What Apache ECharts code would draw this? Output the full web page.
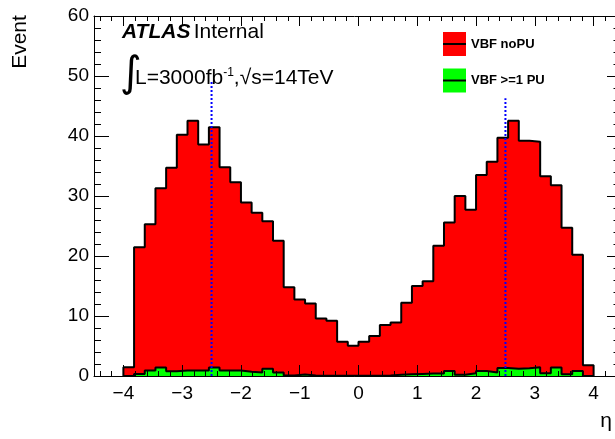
<!DOCTYPE html>
<html><head><meta charset="utf-8">
<script src="https://cdn.jsdelivr.net/npm/echarts@6/dist/echarts.min.js"></script>
<style>html,body{margin:0;padding:0;background:#fff}#c{width:615px;height:439px}</style>
</head><body><div id="c"></div>
<script>
// ---- data ----
const etaLow = -4, etaHigh = 4;           // histogram range (44 bins)
const vbfNoPU = [1.45, 21.45, 25.3, 31.3, 34.7, 40.2, 42.55, 38.6, 41.45, 34.8, 32.3,
  28.9, 27.2, 25.8, 22.55, 14.8, 12.75, 12.1, 9.6, 9.2, 5.7, 5.05,
  5.7, 6.67, 8.5, 8.9, 12.2, 15.0, 15.8, 21.7, 25.6, 30.0, 27.7,
  33.5, 35.7, 39.7, 42.55, 39.2, 39.05, 33.3, 31.8, 24.7, 20.2, 1.8];
const vbfPU = [0, 0.35, 0.9, 1.4, 0.8, 0.9, 0.9, 0.9, 1.4, 0.9, 0.9,
  0.7, 0.6, 1.2, 0.6, 0.1, 0.25, 0.1, 0.05, 0.05, 0.05, 0.05,
  0.05, 0.05, 0.1, 0.2, 0.3, 0.35, 0.4, 0.4, 0.85, 0.2, 0.45,
  0.85, 0.6, 1.35, 1.2, 1.3, 1.45, 0.45, 1.4, 0.3, 0.85, 0];
const xTickLabels = [-4, -3, -2, -1, 0, 1, 2, 3, 4];
const yTickLabels = [0, 10, 20, 30, 40, 50, 60];
const xAxisMin = -4.5, xAxisMax = 4.364;  // frame is cut by the picture's right edge
const refLineEta = [-2.5, 2.5];
const refLineTop = [49.3, 46.3];
const legendNames = ['VBF noPU', 'VBF >=1 PU'];
const seriesColors = ['#ff0000', '#00ff00'];

// ---- helpers ----
function stepData(counts) {
  const n = counts.length, w = (etaHigh - etaLow) / n;
  const d = [[etaLow, 0]];
  for (let i = 0; i < n; i++) d.push([etaLow + i * w, counts[i]]);
  d.push([etaHigh, counts[n - 1]]);
  d.push([etaHigh, 0]);
  return d;
}
const minorX = [];
for (let k = -22; k <= 21; k++) minorX.push(k / 5);
const FONT = 'Liberation Sans';
const fmt = v => v < 0 ? '\u2212' + Math.abs(v) : String(v);

function xAx(pos, major, labels) {
  return {
    type: 'value', min: xAxisMin, max: xAxisMax, position: pos, z: 10,
    axisLine: { show: major, onZero: false, lineStyle: { color: '#000', width: 1 } },
    axisTick: { show: true, inside: true, length: major ? (pos === 'bottom' ? 11 : 10) : 5,
      customValues: major ? xTickLabels : minorX, lineStyle: { color: '#000', width: 1 } },
    axisLabel: { show: labels, customValues: xTickLabels, formatter: fmt, fontSize: 19,
      fontFamily: FONT, color: '#000', margin: 8 },
    splitLine: { show: false }
  };
}
function yAx(pos, labels) {
  const left = pos === 'left';
  return {
    type: 'value', min: 0, max: 60, interval: 10, position: pos, z: 10,
    axisLine: { show: left, onZero: false, lineStyle: { color: '#000', width: 1 } },
    axisTick: { show: true, inside: true, length: left ? 15 : 8, lineStyle: { color: '#000', width: 1 } },
    minorTick: { show: true, splitNumber: 5, length: left ? 7 : 1.5, lineStyle: { color: '#000', width: 1 } },
    axisLabel: { show: labels, fontSize: 19, fontFamily: FONT, color: '#000', margin: 5,
      customValues: yTickLabels },
    splitLine: { show: false }
  };
}

const series = [vbfNoPU, vbfPU].map((arr, i) => ({
  name: legendNames[i], type: 'line', step: 'end', data: stepData(arr),
  showSymbol: false, symbol: 'none', z: 2 + i,
  itemStyle: { color: seriesColors[i] },
  lineStyle: { color: '#000', width: 2 },
  areaStyle: { color: seriesColors[i], opacity: 1 },
  silent: true
}));
refLineEta.forEach((x, i) => series.push({
  name: 'ref' + i, type: 'line', data: [[x, 0], [x, refLineTop[i]]],
  showSymbol: false, symbol: 'none', z: 6,
  lineStyle: { color: '#0000ff', width: 2, type: [2, 2] }, silent: true
}));

const chart = echarts.init(document.getElementById('c'), null, { renderer: 'canvas' });
chart.setOption({
  animation: false,
  backgroundColor: '#fff',
  grid: { left: 94, top: 16, right: 0, height: 360, containLabel: false },
  xAxis: [xAx('bottom', true, true), xAx('bottom', false, false), xAx('top', true, false), xAx('top', false, false)],
  yAxis: [yAx('left', true), yAx('right', false)],
  legend: {
    orient: 'vertical', left: 443, top: 32, padding: 0, itemWidth: 23, itemHeight: 24, itemGap: 12.5,
    icon: 'rect', selectedMode: false,
    textStyle: { fontSize: 13, fontWeight: 'bold', color: '#000', fontFamily: FONT },
    data: legendNames.map((n, i) => ({ name: n, itemStyle: { color: seriesColors[i], borderWidth: 0 } }))
  },
  series: series,
  graphic: [
    { type: 'line', shape: { x1: 443, y1: 44, x2: 466, y2: 44 }, style: { stroke: '#000', lineWidth: 2 }, z: 100 },
    { type: 'line', shape: { x1: 443, y1: 80.5, x2: 466, y2: 80.5 }, style: { stroke: '#000', lineWidth: 2 }, z: 100 },
    { type: 'text', x: 20.5, y: 42, rotation: Math.PI / 2,
      style: { text: 'Event', fontSize: 21, fontFamily: FONT, fill: '#000', align: 'center', verticalAlign: 'middle' } },
    { type: 'text', x: 606, y: 421,
      style: { text: 'η', fontSize: 21, fontFamily: FONT, fill: '#000', align: 'center', verticalAlign: 'middle' } },
    { type: 'text', x: 122, y: 32, z: 50,
      style: { text: '{a|ATLAS} {b|Internal}', verticalAlign: 'middle', fill: '#000',
        rich: { a: { fontSize: 21, fontWeight: 'bold', fontStyle: 'italic', fontFamily: FONT, fill: '#000' },
                b: { fontSize: 21, fontFamily: FONT, fill: '#000' } } } },
    { type: 'text', x: 120, y: 75, z: 50,
      style: { text: '∫', fontSize: 42, fontFamily: 'DejaVu Sans', fill: '#000', verticalAlign: 'middle' } },
    { type: 'text', x: 135, y: 78, z: 50,
      style: { text: '{t|L=3000fb}{s|-1}{t|,√s=14TeV}', verticalAlign: 'middle', fill: '#000',
        rich: { t: { fontSize: 21, fontFamily: FONT, fill: '#000', lineHeight: 22 },
                s: { fontSize: 12, fontFamily: FONT, fill: '#000', verticalAlign: 'top', lineHeight: 12 } } } }
  ]
});
</script></body></html>
